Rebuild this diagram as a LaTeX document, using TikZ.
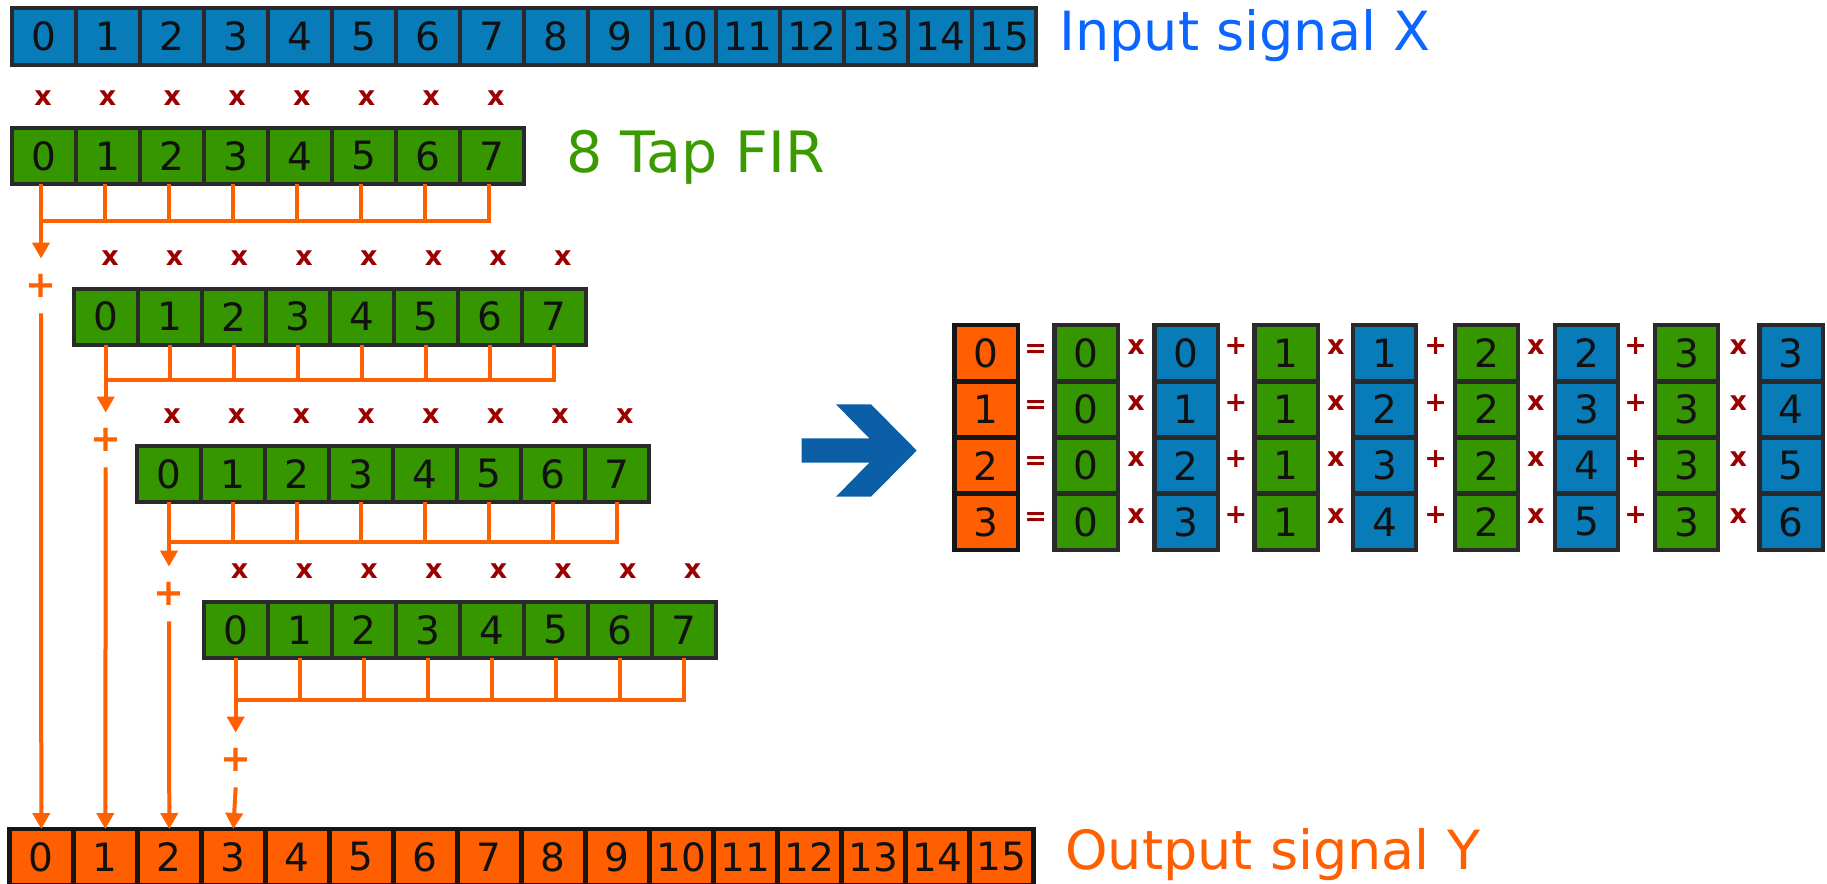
\documentclass[tikz,border=0pt]{standalone}
\usepackage{fontspec}
\setmainfont{DejaVu Sans}
\usetikzlibrary{arrows.meta}

\definecolor{cellblue}{RGB}{8,124,184}
\definecolor{cellgreen}{RGB}{54,150,0}
\definecolor{cellorange}{RGB}{255,95,0}
\definecolor{cellborder}{RGB}{42,42,42}
\definecolor{outborder}{RGB}{22,22,22}
\definecolor{tapcolor}{RGB}{255,96,0}
\definecolor{opred}{RGB}{155,0,0}
\definecolor{labelblue}{RGB}{10,102,255}
\definecolor{labelgreen}{RGB}{58,154,0}
\definecolor{bigarrow}{RGB}{12,94,166}
\definecolor{digitink}{RGB}{17,17,17}

\tikzset{
  sigcell/.style={draw=cellborder, line width=2pt, minimum width=32pt,
    minimum height=28pt, inner sep=0pt, outer sep=0pt, text=digitink,
    font=\fontsize{19.5}{20}\selectfont},
  xcell/.style={sigcell, fill=cellblue, minimum height=28.5pt},
  hcell/.style={sigcell, fill=cellgreen},
  ycell/.style={sigcell, fill=cellorange, draw=outborder, line width=2.4pt},
  rcell/.style={sigcell, minimum width=31.6pt, minimum height=28.1pt, line width=2.25pt},
  rorange/.style={rcell, fill=cellorange, draw=outborder},
  rgreen/.style={rcell, fill=cellgreen},
  rblue/.style={rcell, fill=cellblue},
  opsym/.style={inner sep=0pt, text=opred, font=\bfseries\fontsize{13.5}{14}\selectfont},
  plusnode/.style={inner sep=0pt, minimum height=27pt, text=tapcolor,
    font=\bfseries\fontsize{18.5}{18.5}\selectfont},
  tapwire/.style={draw=tapcolor, line width=2pt},
  tapbar/.style={tapwire, line cap=rect},
  feed/.style={tapwire, -{Triangle[width=8.5pt,length=8pt]}},
  siglabel/.style={anchor=base west, inner sep=0pt, font=\fontsize{27}{27}\selectfont}
}

\begin{document}
\begin{tikzpicture}[x=0.5pt, y=-0.5pt]
\useasboundingbox (0,0) rectangle (1827,884);

% input signal X
\foreach \k in {0,...,15}
  \node[xcell] (X-\k) at ({12+32+64*\k},36.5) {\k};
\node[siglabel, text=labelblue] (lblX) at (1059,50) {Input signal X};

% four shifted copies of the 8-tap filter
\foreach \r/\left/\cy in {1/12/156, 2/73.7/316.7, 3/137/474, 4/203.7/630}
  \foreach \k in {0,...,7}
    \node[hcell] (H\r-\k) at ({\left+32+64*\k},\cy) {\k};
\node[siglabel, text=labelgreen, font=\fontsize{28.5}{28.5}\selectfont] (lblH) at (566,172.3) {8 Tap FIR};

% multiply marks above each filter copy
\foreach \r/\mx/\my in {1/43/98, 2/110/257.7, 3/172/415.7, 4/239.7/570.7}
  \foreach \k in {0,...,7}
    \node[opsym] (M\r-\k) at ({\mx+64.7*\k},\my) {x};

% output signal Y
\foreach \k in {0,...,15}
  \node[ycell] (Y-\k) at ({9.3+32+64*\k},857) {\k};
\node[siglabel, text=cellorange] (lblY) at (1065,869.3) {Output signal Y};

% summing taps, adders and feeds into the output
\foreach \r/\by/\py/\dx in {1/221/286/-1.5, 2/380/440/0, 3/541.7/594/0, 4/699.7/760/0}{
  \foreach \k in {0,...,7}{
    \coordinate (T\r-\k) at ([xshift=\dx pt]H\r-\k.south);
    \coordinate (B\r-\k) at (T\r-\k |- 0,\by);
    \draw[tapwire] (T\r-\k) -- (B\r-\k);
  }
  \draw[tapbar] (B\r-0) -- (B\r-7);
  \node[plusnode] (P\r) at (B\r-0 |- 0,\py) {+};
  \draw[feed] (B\r-0) -- (P\r.north);
}
\draw[feed] (P1.south) -- (Y-0.north);
\draw[feed] (P2.south) -- (Y-1.north);
\draw[feed] (P3.south) -- (Y-2.north);
\draw[feed] (P4.south) -- (Y-3.north);

% block arrow
\fill[bigarrow] (801.7,438.3) -- (869.3,438.3) -- (836,404.3) -- (871,404.3)
  -- (916.7,450.5) -- (871,496.7) -- (836,496.7) -- (869.3,462.7)
  -- (801.7,462.7) -- cycle;

% expanded sums for the first four outputs
\foreach \r in {0,...,3}{
  \node[rorange] (Z-\r) at (986.15,{353.1+56.25*\r}) {\r};
  \node[opsym] (EQ-\r) at (1035.7,{350.5+56.25*\r}) {=};
}
\foreach \j/\gx/\bx in {0/1052.3/1152.3, 1/1252.3/1350.7, 2/1452.7/1552.7, 3/1652.7/1757.3}
  \foreach \r in {0,...,3}{
    \pgfmathtruncatemacro\v{\j+\r}
    \node[rgreen] (G\j-\r) at ({\gx+33.85},{353.1+56.25*\r}) {\j};
    \node[rblue] (E\j-\r) at ({\bx+33.85},{353.1+56.25*\r}) {\v};
  }
\foreach \j/\ox in {0/1136, 1/1335.7, 2/1535.7, 3/1738.3}
  \foreach \r in {0,...,3}
    \node[opsym] (MX\j-\r) at (\ox,{347+56.25*\r}) {x};
\foreach \j/\ox in {0/1236, 1/1435.7, 2/1635.7}
  \foreach \r in {0,...,3}
    \node[opsym] (PL\j-\r) at (\ox,{346.5+56.25*\r}) {+};
\end{tikzpicture}
\end{document}
